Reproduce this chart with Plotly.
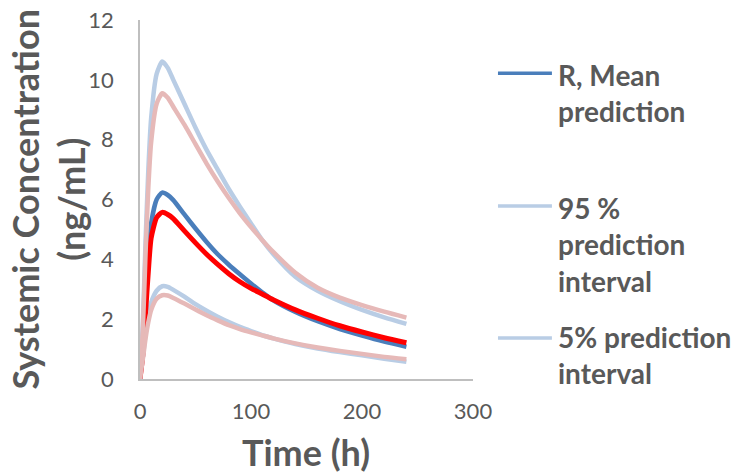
import plotly.graph_objects as go

time_h = [0, 2.5, 5, 7.5, 10, 15, 20, 25, 30, 40, 50, 60, 70, 80, 90, 100,
          110, 120, 140, 160, 180, 200, 220, 240]

mean_blue = [0, 1.0, 2.6, 4.1, 5.2, 6.0, 6.23, 6.15, 5.98, 5.5, 5.03, 4.58,
             4.17, 3.82, 3.5, 3.19, 2.9, 2.63, 2.24, 1.93, 1.67, 1.45, 1.25, 1.08]
mean_red = [0, 0.8, 2.2, 3.6, 4.7, 5.4, 5.57, 5.5, 5.36, 4.95, 4.55, 4.17,
            3.83, 3.52, 3.25, 3.03, 2.84, 2.65, 2.31, 2.03, 1.78, 1.57, 1.38, 1.21]
upper_blue = [0, 1.8, 4.6, 7.0, 8.7, 10.2, 10.61, 10.4, 10.0, 9.2, 8.4, 7.66,
              7.0, 6.35, 5.76, 5.2, 4.65, 4.18, 3.42, 2.95, 2.6, 2.31, 2.06, 1.84]
upper_pink = [0, 1.6, 4.2, 6.4, 7.9, 9.2, 9.55, 9.4, 9.1, 8.5, 7.85, 7.2,
              6.6, 6.05, 5.54, 5.08, 4.65, 4.25, 3.55, 3.05, 2.72, 2.47, 2.25, 2.05]
lower_blue = [0, 0.7, 1.5, 2.1, 2.55, 2.95, 3.1, 3.08, 2.98, 2.75, 2.5, 2.28,
              2.08, 1.9, 1.74, 1.6, 1.47, 1.36, 1.17, 1.02, 0.9, 0.79, 0.68, 0.58]
lower_pink = [0, 0.65, 1.35, 1.9, 2.3, 2.68, 2.8, 2.79, 2.71, 2.52, 2.32, 2.13,
              1.96, 1.8, 1.67, 1.56, 1.46, 1.36, 1.19, 1.05, 0.94, 0.84, 0.74, 0.66]

x_ticks = [0, 100, 200, 300]
y_ticks = [0, 2, 4, 6, 8, 10, 12]

legend_labels = ["R, Mean<br>prediction", "95 %<br>prediction<br>interval",
                 "5% prediction<br>interval"]
x_title = "Time (h)"
y_title = "Systemic Concentration<br>(ng/mL)"

C_BLUE = "#4A7EBB"
C_LBLUE = "#B9CDE5"
C_PINK = "#E6B9B8"
C_RED = "#FF0000"
FONT = "Lato"
GREY = "#595959"

fig = go.Figure()
series = [
    (mean_blue, C_BLUE, 4.5),
    (upper_blue, C_LBLUE, 4.5),
    (lower_blue, C_LBLUE, 4.5),
    (mean_red, C_RED, 5),
    (upper_pink, C_PINK, 4.5),
    (lower_pink, C_PINK, 4.5),
]
for ys, col, w in series:
    fig.add_trace(go.Scatter(x=time_h, y=ys, mode="lines",
                             line=dict(color=col, width=w, shape="spline", smoothing=0.6),
                             showlegend=False, hoverinfo="skip"))

fig.update_layout(
    width=742, height=473,
    margin=dict(l=140, r=269, t=20, b=94),
    plot_bgcolor="white", paper_bgcolor="white",
    font=dict(family=FONT, color=GREY),
    xaxis=dict(range=[0, 300], tickvals=x_ticks, showgrid=False, zeroline=False,
               showline=True, linecolor="#BFBFBF", linewidth=1.5, automargin=False,
               tickfont=dict(size=22, color=GREY), ticks="", ticklabelstandoff=12),
    yaxis=dict(range=[0, 12], tickvals=y_ticks, showgrid=False, zeroline=False,
               showline=True, linecolor="#BFBFBF", linewidth=1.5, automargin=False,
               tickfont=dict(size=22, color=GREY), ticks="", ticklabelstandoff=20),
)

# axis titles
fig.add_annotation(xref="paper", yref="paper", x=0.498, y=-0.203, xanchor="center",
                   yanchor="middle", text="<b>" + x_title + "</b>", showarrow=False,
                   font=dict(size=36, color=GREY, family=FONT))
fig.add_annotation(xref="paper", yref="paper", x=-0.276, y=0.5, xanchor="center",
                   yanchor="middle", text="<b>" + y_title + "</b>", showarrow=False,
                   textangle=-90, font=dict(size=36, color=GREY, family=FONT))

# manual legend (matches the Excel legend layout)
leg_items = [(legend_labels[0], C_BLUE, 0.852, 0.798),
             (legend_labels[1], C_LBLUE, 0.482, 0.376),
             (legend_labels[2], C_LBLUE, 0.114, 0.067)]
for text, col, yline, ymid in leg_items:
    fig.add_shape(type="line", xref="paper", yref="paper",
                  x0=1.075, x1=1.237, y0=yline, y1=yline, line=dict(color=col, width=3.5))
    fig.add_annotation(xref="paper", yref="paper", x=1.249, y=ymid, xanchor="left",
                       yanchor="middle", text="<b>" + text + "</b>", showarrow=False,
                       align="left", font=dict(size=28, color=GREY, family=FONT))

fig.write_html("out.html", config={"displayModeBar": False},
               post_script="document.body.style.margin='0';document.body.style.overflow='hidden';")
